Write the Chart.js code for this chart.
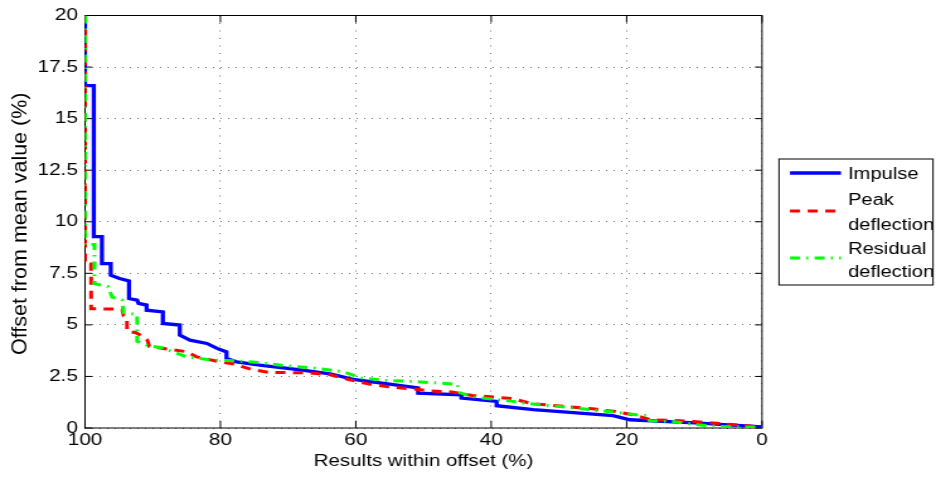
<!DOCTYPE html>
<html>
<head>
<meta charset="utf-8">
<script src="https://cdn.jsdelivr.net/npm/chart.js@4.4.1/dist/chart.umd.min.js"></script>
<style>
  html, body { margin: 0; padding: 0; background: #fff; }
  #chart { display: block; }
</style>
</head>
<body>
<canvas id="chart" width="743" height="481" style="width:936px;height:481px"></canvas>
<script>
// Offset curves (x = results within offset %, y = offset %)
const impulseX = [100, 100, 98.7, 98.7, 97.5, 97.5, 96.2, 96.2, 94.9, 93.5, 93.5, 92.3, 92.1, 90.9, 90.9, 88.5, 88.5, 86.0, 86.0, 84.5, 82.0, 80.5, 79.1, 79.1, 77.6, 74.2, 68.2, 63.8, 60.1, 50.8, 50.8, 44.4, 44.4, 39.2, 39.2, 33.8, 22.0, 19.5, 9.2, 0];
const impulseY = [20, 16.6, 16.6, 9.28, 9.28, 7.97, 7.97, 7.41, 7.25, 7.13, 6.28, 6.2, 6.04, 5.96, 5.71, 5.63, 5.07, 4.99, 4.5, 4.26, 4.1, 3.86, 3.69, 3.37, 3.21, 3.05, 2.82, 2.62, 2.34, 1.94, 1.69, 1.61, 1.45, 1.29, 1.08, 0.89, 0.6, 0.40, 0.24, 0.05];

const peakX = [100, 100, 99.1, 99.1, 94.5, 94.3, 93.8, 93.8, 92.5, 91.5, 90.8, 90.5, 85.0, 83.5, 80.0, 78.0, 75.5, 73.0, 66.8, 63.8, 60.9, 57.6, 54.5, 51.8, 48.9, 45.8, 42.8, 39.7, 36.8, 34.0, 25.0, 21.7, 19.1, 17.5, 16.5, 13.3, 10.2, 7.2, 0];
const peakY = [20, 7.95, 7.95, 5.78, 5.76, 5.45, 5.35, 4.7, 4.62, 4.45, 4.27, 3.95, 3.7, 3.45, 3.2, 3.1, 2.85, 2.7, 2.67, 2.58, 2.34, 2.1, 1.98, 1.9, 1.8, 1.75, 1.58, 1.5, 1.42, 1.18, 0.93, 0.8, 0.64, 0.5, 0.4, 0.37, 0.32, 0.24, 0.05];

const residualX = [100, 100, 98.6, 98.6, 96.6, 96.0, 94.5, 94.3, 92.3, 92.3, 90.8, 88.5, 85.0, 81.5, 77.8, 73.8, 70.2, 66.5, 62.0, 59.2, 55.2, 51.1, 47.9, 45.0, 44.6, 42.0, 38.0, 34.3, 31.0, 27.6, 24.2, 21.3, 18.6, 16.9, 16.6, 13.3, 9.5, 6.6, 0];
const residualY = [20, 8.9, 8.9, 7.0, 6.85, 6.35, 6.2, 5.6, 5.5, 4.2, 4.0, 3.88, 3.45, 3.3, 3.26, 3.16, 3.01, 2.92, 2.74, 2.43, 2.3, 2.25, 2.18, 2.12, 1.7, 1.47, 1.34, 1.18, 1.08, 0.96, 0.85, 0.75, 0.64, 0.6, 0.35, 0.32, 0.16, 0.08, 0.03];

const legendLabels = [['Impulse'], ['Peak', 'deflection'], ['Residual', 'deflection']];
const yTitle = 'Offset from mean value (%)';
const xTicks = [0, 20, 40, 60, 80, 100];
const yTicks = [0, 2.5, 5, 7.5, 10, 12.5, 15, 17.5, 20];

// canvas is drawn narrow and stretched by css, like the original figure
const SX = 936 / 743;
const FONT = '"Liberation Sans", Arial, sans-serif';

function toPoints(xs, ys) {
    return xs.map((x, i) => ({ x: x, y: ys[i] }));
}

// axes box with inward ticks, drawn under the curves
const boxPlugin = {
    id: 'matlabBox',
    beforeDatasetsDraw(chart) {
        const { ctx, chartArea: a, scales } = chart;
        ctx.save();
        ctx.strokeStyle = '#000';
        ctx.lineWidth = 1;
        ctx.strokeRect(a.left, a.top, a.right - a.left, a.bottom - a.top);
        ctx.beginPath();
        xTicks.forEach(v => {
            const px = scales.x.getPixelForValue(v);
            ctx.moveTo(px, a.top); ctx.lineTo(px, a.top + 7);
            ctx.moveTo(px, a.bottom); ctx.lineTo(px, a.bottom - 7);
        });
        yTicks.forEach(v => {
            const py = scales.y.getPixelForValue(v);
            ctx.moveTo(a.left, py); ctx.lineTo(a.left + 5.6, py);
            ctx.moveTo(a.right, py); ctx.lineTo(a.right - 5.6, py);
        });
        ctx.stroke();

        // y axis title: longer along the axis than the stretched canvas gives
        const cy = (a.top + a.bottom) / 2 + 2;
        ctx.translate(20.5 / SX, cy);
        ctx.rotate(-Math.PI / 2);
        ctx.scale(1, 0.74);
        ctx.fillStyle = '#000';
        ctx.font = '21.5px ' + FONT;
        ctx.textAlign = 'center';
        ctx.textBaseline = 'middle';
        ctx.fillText(yTitle, 0, 0);
        ctx.restore();
    }
};

// boxed legend outside the plot on the right
const legendPlugin = {
    id: 'sideLegend',
    afterDraw(chart) {
        const ctx = chart.ctx;
        const left = 779 / SX, right = 933 / SX, top = 159, bottom = 285;
        const lineY = [173, 211, 258];
        const textY = [[179], [205, 229.5], [253.5, 276.5]];
        ctx.save();
        ctx.fillStyle = '#fff';
        ctx.fillRect(left, top, right - left, bottom - top);
        ctx.strokeStyle = '#000';
        ctx.lineWidth = 1;
        ctx.strokeRect(left, top, right - left, bottom - top);
        chart.data.datasets.forEach((ds, i) => {
            ctx.beginPath();
            ctx.strokeStyle = ds.borderColor;
            ctx.lineWidth = ds.borderWidth;
            ctx.setLineDash(ds.borderDash || []);
            ctx.moveTo(790 / SX, lineY[i]);
            ctx.lineTo(841 / SX, lineY[i]);
            ctx.stroke();
            ctx.setLineDash([]);
            ctx.fillStyle = '#000';
            ctx.font = '16px ' + FONT;
            ctx.textBaseline = 'alphabetic';
            ctx.textAlign = 'left';
            legendLabels[i].forEach((t, j) => ctx.fillText(t, 848 / SX, textY[i][j]));
        });
        ctx.restore();
    }
};

Chart.defaults.font.family = FONT;
Chart.defaults.font.size = 16;
Chart.defaults.color = '#000';

const ctx = document.getElementById('chart').getContext('2d');
new Chart(ctx, {
    type: 'line',
    data: {
        datasets: [
            {
                label: 'Impulse',
                data: toPoints(impulseX, impulseY),
                borderColor: '#0000ff',
                borderWidth: 3.3,
                order: 3,
            },
            {
                label: 'Peak deflection',
                data: toPoints(peakX, peakY),
                borderColor: '#ff0000',
                borderWidth: 3,
                borderDash: [8, 6],
                order: 2,
            },
            {
                label: 'Residual deflection',
                data: toPoints(residualX, residualY),
                borderColor: '#00ff00',
                borderWidth: 3,
                borderDash: [8, 5, 1.5, 5],
                order: 1,
            }
        ]
    },
    options: {
        responsive: false,
        animation: false,
        events: [],
        elements: {
            point: { radius: 0 },
            line: { tension: 0, fill: false }
        },
        layout: {
            padding: { left: 0, right: 743 - 762 / SX, top: 15, bottom: 0 }
        },
        plugins: {
            legend: { display: false },
            tooltip: { enabled: false }
        },
        scales: {
            x: {
                type: 'linear',
                reverse: true,
                min: 0,
                max: 100,
                afterBuildTicks: scale => { scale.ticks = xTicks.map(v => ({ value: v })); },
                afterFit: scale => { scale.height = 481 - 428; },
                ticks: { padding: 3, font: { size: 16.5 } },
                grid: { color: 'rgba(0,0,0,0.55)', lineWidth: 1, drawTicks: false },
                border: { display: false, dash: [1, 6.5] },
                title: {
                    display: true,
                    text: 'Results within offset (%)',
                    font: { size: 16.3 },
                    padding: { top: 0, bottom: 10 }
                }
            },
            y: {
                type: 'linear',
                min: 0,
                max: 20,
                afterBuildTicks: scale => { scale.ticks = yTicks.map(v => ({ value: v })); },
                afterFit: scale => { scale.width = 85 / SX; },
                ticks: { padding: 5.6, font: { size: 16.5 } },
                grid: { color: 'rgba(0,0,0,0.55)', lineWidth: 1, drawTicks: false },
                border: { display: false, dash: [1, 5] },
                title: { display: false }
            }
        }
    },
    plugins: [boxPlugin, legendPlugin]
});
</script>
</body>
</html>
